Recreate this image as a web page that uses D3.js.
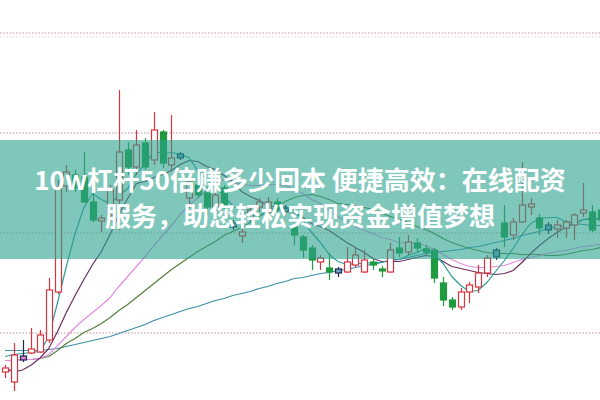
<!DOCTYPE html>
<html>
<head>
<meta charset="utf-8">
<script src="https://cdn.jsdelivr.net/npm/d3@7"></script>
<style>
html,body{margin:0;padding:0;background:#fff;}
svg{display:block;}
</style>
</head>
<body>
<svg id="chart" width="600" height="400"></svg>
<script>
// ---- data (price units) ----
const opens  = [6.05,5.05,7.25,7.95,8.05,9.25,14.05,24.65,25.75,25.55,23.05,21.15,21.75,23.25,28.25,26.55,28.95,27.25,30.05,26.75,27.45,23.45,24.75,23.95,22.25,24.45,20.55,19.65,21.45,22.55,22.05,23.05,22.05,20.55,19.55,18.45,17.05,16.45,15.95,16.05,16.75,16.05,17.05,16.35,16.05,18.45,18.05,18.95,18.35,18.25,14.95,13.25,12.55,14.05,14.55,15.95,17.55,20.95,19.75,21.05,22.55,21.45,20.25,20.35,20.45,20.75,21.95,22.05,22.25];
const closes = [6.45,7.75,7.65,8.35,9.75,14.25,24.55,26.05,24.45,23.05,21.25,21.45,24.25,28.05,26.55,28.75,26.55,30.25,26.95,27.45,27.85,25.05,23.75,22.55,23.75,22.55,20.95,20.05,22.25,23.05,23.05,22.25,22.45,19.75,18.25,17.25,17.45,16.05,16.35,17.05,17.75,17.25,16.75,16.15,18.25,17.95,19.05,18.45,18.05,15.45,13.25,12.55,14.05,14.75,15.95,17.45,18.25,19.55,21.05,22.75,22.85,20.45,20.75,20.75,21.05,21.75,22.25,20.25,21.25];
const highs  = [6.75,8.95,9.25,10.45,10.25,15.45,25.25,26.75,26.25,28.05,23.95,21.75,24.75,34.25,29.05,30.25,29.45,32.05,30.25,31.75,28.05,25.75,25.25,24.55,24.25,24.75,21.25,20.75,22.65,23.45,23.55,23.45,22.75,20.95,19.75,18.75,17.75,17.95,16.55,18.55,18.55,18.25,17.45,16.65,18.95,19.55,19.75,19.45,18.75,18.45,15.55,13.55,14.45,15.05,16.75,17.75,18.45,22.75,21.45,27.05,23.45,21.85,21.05,21.25,21.25,21.95,24.95,22.75,22.75];
const lows   = [5.45,4.15,7.05,7.85,7.95,8.95,13.85,24.05,24.05,22.95,21.05,20.05,21.45,20.25,25.75,25.75,26.25,26.75,26.45,26.25,27.25,22.45,23.45,21.75,21.25,22.25,20.25,18.95,21.05,22.05,21.55,21.85,21.75,18.75,17.45,16.25,16.25,15.25,15.55,15.95,16.55,15.95,16.25,15.55,15.95,17.55,17.75,17.95,17.65,14.95,12.65,12.25,12.25,12.95,13.95,15.55,17.25,18.55,19.25,20.95,21.75,19.75,19.85,19.45,19.45,19.25,21.55,20.05,20.75];
const dojiIdx   = [2,20,26,32,38,56,62];
const dojiFills = ["#e07fcf","#6f9fc4","#6f9fc4","#6f9fc4","#6f9fc4","#6f9fc4","#6f9fc4"];

const ma5  = [7.6,7.8,7.9,8.0,8.1,9.6,13.0,16.6,19.9,22.5,23.9,23.3,22.9,23.7,24.4,25.9,26.9,28.1,27.9,28.0,27.8,27.5,26.2,25.3,24.6,23.6,22.7,22.0,21.9,21.8,21.9,22.2,22.6,22.1,21.2,20.0,19.0,17.8,17.1,16.8,16.9,16.9,17.0,17.0,17.3,17.3,17.7,18.0,18.4,17.8,16.9,15.6,14.7,14.1,14.2,15.0,16.1,17.2,18.4,19.8,20.9,21.4,21.5,21.5,21.1,20.9,21.3,21.3,21.4];
const ma10 = [6.45,6.05,6.25,6.75,7.45,8.4,10.1,12.0,13.7,15.3,16.8,18.1,19.8,21.8,23.4,24.9,25.1,25.5,25.8,26.2,26.8,27.2,27.1,26.6,26.3,25.7,25.1,24.1,23.6,23.2,22.7,22.5,22.3,22.0,21.5,20.9,20.6,20.2,19.6,19.0,18.5,18.0,17.4,17.1,17.1,17.1,17.3,17.5,17.7,17.6,17.1,16.6,16.4,16.2,16.0,15.9,15.8,15.9,16.2,17.0,17.9,18.7,19.4,20.0,20.5,20.9,21.3,21.4,21.4];
const ma20 = [7.2,7.2,7.3,7.3,7.4,7.8,8.7,9.6,10.5,11.3,12.0,12.7,13.5,14.6,15.6,16.6,17.6,18.7,19.7,20.7,21.8,22.7,23.5,24.2,24.9,25.3,25.1,24.8,24.7,24.7,24.8,24.8,24.7,24.3,23.9,23.3,22.9,22.2,21.6,21.1,20.6,20.2,19.9,19.5,19.3,19.0,18.9,18.9,18.7,18.3,17.8,17.3,16.9,16.6,16.5,16.5,16.6,16.7,17.0,17.3,17.5,17.7,17.9,18.1,18.2,18.4,18.6,18.7,18.8];
const ma30 = [7.2,7.2,7.3,7.3,7.4,7.6,8.2,8.9,9.4,10.0,10.4,10.9,11.5,12.2,12.8,13.5,14.2,14.9,15.6,16.3,16.9,17.5,18.1,18.6,19.1,19.7,20.1,20.5,21.0,21.6,22.1,22.6,23.1,23.5,23.7,23.8,23.6,23.3,22.9,22.8,22.7,22.5,22.3,21.9,21.6,21.3,21.0,20.6,20.3,19.9,19.4,19.0,18.7,18.4,18.2,18.0,17.9,17.9,17.9,17.8,17.8,17.8,17.7,17.7,17.8,18.0,18.2,18.3,18.5];
const ma60 = [8.2,8.2,8.2,8.2,8.2,8.3,8.4,8.6,8.8,9.0,9.2,9.4,9.6,9.9,10.2,10.5,10.8,11.2,11.5,11.8,12.1,12.4,12.6,12.9,13.2,13.4,13.7,13.9,14.1,14.4,14.6,14.9,15.1,15.4,15.5,15.7,15.9,16.0,16.2,16.3,16.5,16.7,16.8,17.0,17.2,17.3,17.5,17.7,17.9,18.0,18.1,18.2,18.3,18.5,18.6,18.8,19.0,19.2,19.4,19.7,19.9,20.1,20.4,20.6,20.7,20.9,20.8,20.7,20.7];
const gridTicks = [10,20,30,40];

const line1 = "10w杠杆50倍赚多少回本 便捷高效：在线配资";
const line2 = "服务，助您轻松实现资金增值梦想";

// ---- drawing ----
const W = 600, H = 400;
const svg = d3.select("#chart");
const x = d3.scaleLinear().domain([0, 67]).range([5, 592]);
const y = d3.scaleLinear().domain([0, 40]).range([432.5, 32.5]);

// grid
const grid = svg.append("g").attr("transform", "translate(0,0)")
  .call(d3.axisLeft(y).tickValues(gridTicks).tickSize(-W).tickFormat(""));
grid.select(".domain").remove();
grid.selectAll(".tick line").attr("stroke", "#c59a9a").attr("stroke-width", 1.2)
  .attr("stroke-dasharray", "1.6,1.6");
svg.append("line").attr("x1", 0).attr("x2", W).attr("y1", y(40) + 4.5).attr("y2", y(40) + 4.5)
  .attr("stroke", "#d8c4c4").attr("stroke-width", 1).attr("stroke-dasharray", "1.6,1.6").attr("opacity", 0.6);

// moving averages
const maSeries = [
  {v: ma60, c: "#3b8ea8"},
  {v: ma30, c: "#537f3b"},
  {v: ma20, c: "#e68be2"},
  {v: ma10, c: "#6f2b60"},
  {v: ma5,  c: "#2f9d9d"}
];
const lineGen = d3.line().x((d, i) => x(i)).y(d => y(d));
svg.append("g").selectAll("path").data(maSeries).join("path")
  .attr("d", s => lineGen(s.v))
  .attr("fill", "none").attr("stroke", s => s.c).attr("stroke-width", 1.2);

// candles
const bw = 6;
const candles = d3.range(opens.length).map(i => {
  const di = dojiIdx.indexOf(i);
  return {i, o: opens[i], c: closes[i], h: highs[i], l: lows[i],
    kind: di >= 0 ? "doji" : (closes[i] >= opens[i] ? "up" : "down"),
    fill: di >= 0 ? dojiFills[di] : null};
});
const col = d => d.kind === "up" ? "#d8343f" : d.kind === "down" ? "#1f9a3e" : "#1c2a52";
const cg = svg.append("g");
cg.selectAll("line").data(candles).join("line")
  .attr("x1", d => Math.round(x(d.i)) + 0.5).attr("x2", d => Math.round(x(d.i)) + 0.5)
  .attr("y1", d => y(d.h)).attr("y2", d => y(d.l))
  .attr("stroke", col).attr("stroke-width", 1.2);
cg.selectAll("rect").data(candles).join("rect")
  .attr("x", d => Math.round(x(d.i)) - bw / 2 + 0.5)
  .attr("width", bw)
  .attr("y", d => y(Math.max(d.o, d.c)))
  .attr("height", d => Math.max(1.5, Math.abs(y(d.o) - y(d.c))))
  .attr("fill", d => d.kind === "up" ? "#ffffff" : d.kind === "down" ? "#1f9a3e" : d.fill)
  .attr("stroke", col).attr("stroke-width", 1.2);

// banner overlay
svg.append("rect").attr("x", 0).attr("y", 140).attr("width", W).attr("height", 119)
  .attr("fill", "rgb(44,161,141)").attr("opacity", 0.6);

// texts
const tg = svg.append("g").attr("font-family", "'Noto Sans CJK SC','Noto Sans',sans-serif")
  .attr("font-weight", "bold").attr("font-size", 26).attr("fill", "#ffffff").attr("text-anchor", "middle");
tg.append("text").attr("x", 300).attr("y", 190).text(line1);
tg.append("text").attr("x", 300).attr("y", 226).text(line2);
</script>
</body>
</html>
